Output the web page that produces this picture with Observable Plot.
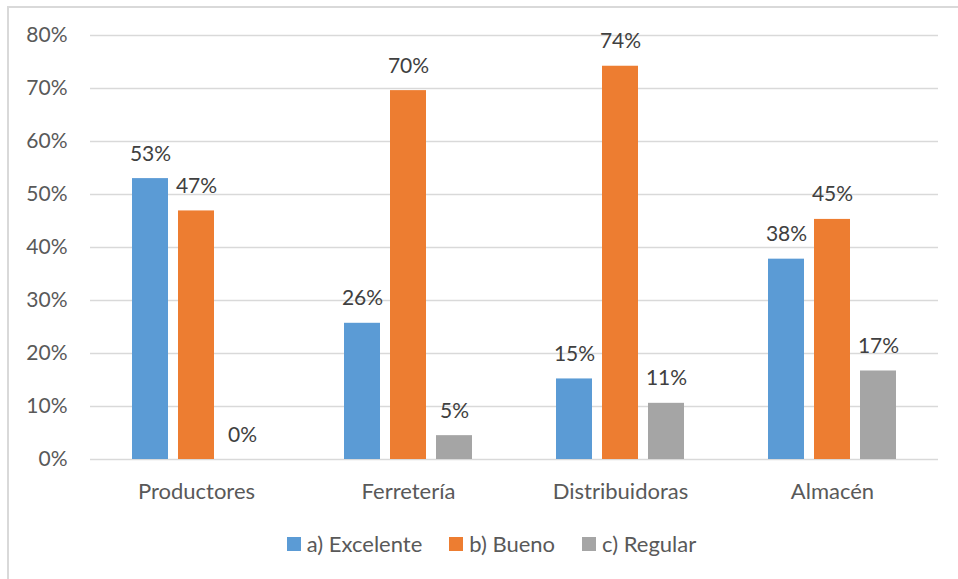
<!DOCTYPE html>
<html>
<head>
<meta charset="utf-8">
<script src="https://cdn.jsdelivr.net/npm/d3@7"></script>
<script src="https://cdn.jsdelivr.net/npm/@observablehq/plot@0.6"></script>
<style>
  html, body { margin: 0; padding: 0; background: #fff; overflow: hidden; width: 958px; height: 579px; }
  #frame { position: absolute; left: 7px; top: 6px; width: 1000px; height: 1000px; border: 2px solid #D9D9D9; box-sizing: border-box; }
  #chart { position: absolute; left: 0; top: 0; }
  #chart svg g[aria-label^="fx-axis"] text { font-size: 22px; }
  #legend { position: absolute; left: 0; top: 530px; width: 983px; display: flex; justify-content: center; }
  #legend .leg-swatches { font-family: Lato, sans-serif; font-size: 22px; color: #595959; margin: 0; min-height: 0; }
  #legend .leg-swatches-wrap .leg-swatch { margin-right: 27px; }
  #legend .leg-swatches-wrap .leg-swatch:last-child { margin-right: 0; }
  #legend .leg-swatch > svg { margin-right: 6px; }
</style>
</head>
<body>
<div id="frame"></div>
<div id="chart"></div>
<div id="legend"></div>
<script>
// Categorías y valores (%) por calificación
const categories = ["Productores", "Ferretería", "Distribuidoras", "Almacén"];
const series = ["a) Excelente", "b) Bueno", "c) Regular"];
const excelente = [53, 25.7, 15.2, 37.8];
const bueno = [46.9, 69.6, 74.2, 45.3];
const regular = [0, 4.5, 10.6, 16.7];
const colors = ["#5B9BD5", "#ED7D31", "#A5A5A5"];
const yTicks = [0, 10, 20, 30, 40, 50, 60, 70, 80];

const bySeries = [excelente, bueno, regular];
const rows = categories.flatMap((categoria, i) =>
  series.map((serie, j) => ({ categoria, serie, valor: bySeries[j][i] }))
);

const chart = Plot.plot({
  width: 958,
  height: 510,
  marginLeft: 89,
  marginRight: 19,
  marginTop: 35,
  marginBottom: 51,
  style: { fontFamily: "Lato, sans-serif", fontSize: "21px", color: "#595959", background: "transparent" },
  facet: { data: rows, x: "categoria" },
  fx: { domain: categories, paddingInner: 0, paddingOuter: 0, label: null, axis: "bottom", tickSize: 0, tickPadding: 24 },
  x: { domain: series, paddingInner: 0.2128, paddingOuter: 0.867, axis: null },
  y: { domain: [0, 80], ticks: yTicks, tickFormat: d => d + "%", tickSize: 0, tickPadding: 23, label: null },
  color: { domain: series, range: colors },
  marks: [
    Plot.ruleY(yTicks, { stroke: "#D9D9D9", strokeWidth: 1.5 }),
    Plot.barY(rows, { x: "serie", y: "valor", fill: "serie" }),
    Plot.text(rows, {
      x: "serie",
      y: "valor",
      text: d => Math.round(d.valor) + "%",
      dy: -18,
      lineAnchor: "bottom",
      fill: "#404040"
    })
  ]
});
document.getElementById("chart").appendChild(chart);

const legend = Plot.legend({
  legend: "swatches",
  className: "leg",
  swatchSize: 14,
  color: { domain: series, range: colors }
});
document.getElementById("legend").appendChild(legend);
</script>
</body>
</html>
